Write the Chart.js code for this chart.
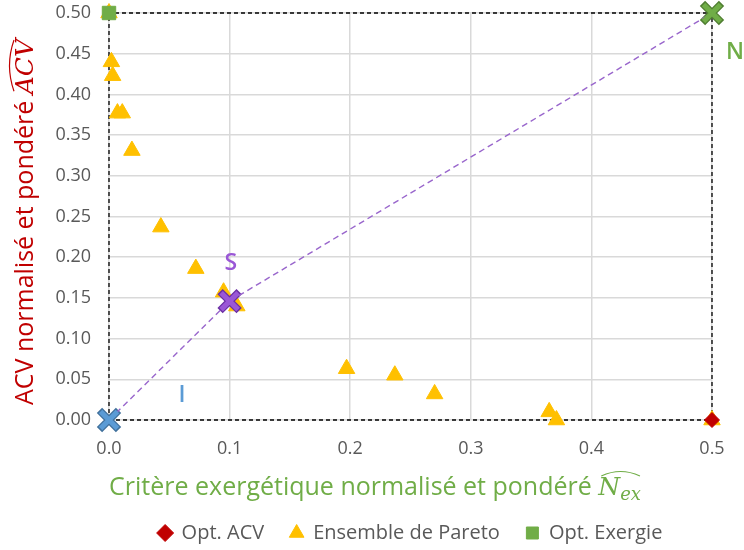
<!DOCTYPE html>
<html>
<head>
<meta charset="utf-8">
<script src="https://cdn.jsdelivr.net/npm/chart.js@4/dist/chart.umd.min.js"></script>
<style>
  html, body { margin: 0; padding: 0; background: #ffffff; }
  #wrap { width: 744px; height: 550px; position: relative; }
</style>
</head>
<body>
<div id="wrap"><canvas id="c" width="744" height="550"></canvas></div>
<script>
// ---- Data ----
const paretoX = [0.000, 0.002, 0.003, 0.007, 0.011, 0.019, 0.043, 0.072, 0.095, 0.106, 0.197, 0.237, 0.270, 0.365, 0.371, 0.500];
const paretoY = [0.500, 0.440, 0.423, 0.377, 0.377, 0.331, 0.237, 0.186, 0.157, 0.140, 0.063, 0.055, 0.032, 0.010, 0.000, 0.000];
const optAcvX = [0.5];
const optAcvY = [0.0];
const optExX = [0.0];
const optExY = [0.5];
const solX = [0.0, 0.1, 0.5];
const solY = [0.0, 0.146, 0.5];
const solNames = ["I", "S", "N"];
const solLabelX = [0.0605, 0.101, 0.519];
const solLabelY = [0.030, 0.192, 0.452];
const boxX = [0, 0.5, 0.5, 0, 0];
const boxY = [0, 0, 0.5, 0.5, 0];
const xTicks = [0.0, 0.1, 0.2, 0.3, 0.4, 0.5];
const yTicks = [0.00, 0.05, 0.10, 0.15, 0.20, 0.25, 0.30, 0.35, 0.40, 0.45, 0.50];
const legendNames = ["Opt. ACV", "Ensemble de Pareto", "Opt. Exergie"];

const pts = (xs, ys) => xs.map((x, i) => ({ x: x, y: ys[i] }));

const solColors = ["#5B9BD5", "#9A57D6", "#70AD47"];
const solDark = ["#41719C", "#6B2FA3", "#507E32"];

const FONT = '"Open Sans", "Liberation Sans", sans-serif';

const titlesPlugin = {
  id: 'titles',
  afterDraw(chart) {
    const ctx = chart.ctx;
    const xs = chart.scales.x, ys = chart.scales.y;
    ctx.save();
    ctx.textAlign = 'center';
    ctx.textBaseline = 'middle';
    ctx.font = '600 23px ' + FONT;
    solNames.forEach((n, i) => {
      ctx.fillStyle = solColors[i];
      ctx.fillText(n, xs.getPixelForValue(solLabelX[i]), ys.getPixelForValue(solLabelY[i]));
    });
    ctx.restore();

    const drawTitle = (cx, cy, color, main, sym, sub) => {
      ctx.save();
      ctx.fillStyle = color;
      ctx.strokeStyle = color;
      ctx.textBaseline = 'alphabetic';
      ctx.textAlign = 'left';
      const mainFont = '25px ' + FONT;
      const symFont = 'italic 25px "DejaVu Serif", "Liberation Serif", serif';
      const subFont = 'italic 18px "DejaVu Serif", "Liberation Serif", serif';
      ctx.font = mainFont; const w1 = ctx.measureText(main).width;
      ctx.font = symFont; const w2 = ctx.measureText(sym).width;
      ctx.font = subFont; const w3 = sub ? ctx.measureText(sub).width : 0;
      const total = w1 + w2 + w3;
      let x = cx - total / 2;
      const base = cy + 8;
      ctx.font = mainFont; ctx.fillText(main, x, base); x += w1;
      const symStart = x;
      ctx.font = symFont; ctx.fillText(sym, x, base); x += w2;
      if (sub) { ctx.font = subFont; ctx.fillText(sub, x, base + 5); x += w3; }
      const hx0 = symStart + 3, hx1 = x - 1, hy = base - 21;
      ctx.lineWidth = 1.2;
      ctx.beginPath();
      ctx.moveTo(hx0, hy + 2);
      ctx.quadraticCurveTo((hx0 + hx1) / 2, hy - 7, hx1, hy + 2);
      ctx.stroke();
      ctx.restore();
    };
    drawTitle(375, 487, '#70AD47', 'Critère exergétique normalisé et pondéré ', 'N', 'ex');
    ctx.save();
    ctx.translate(25, 222);
    ctx.rotate(-Math.PI / 2);
    drawTitle(0, 0, '#C00000', 'ACV normalisé et pondéré ', 'ACV', '');
    ctx.restore();
  }
};

new Chart(document.getElementById('c'), {
  type: 'scatter',
  data: {
    datasets: [
      {
        label: 'sol', data: pts(solX, solY), showLine: true,
        borderColor: '#9966CC', borderWidth: 1.4, borderDash: [6, 4],
        pointStyle: 'crossRot', pointRadius: 12, pointHoverRadius: 12,
        pointBorderColor: solColors, pointBorderWidth: 5, pointBackgroundColor: solColors,
        clip: false, order: 0
      },
      {
        label: 'solOutline', data: pts(solX, solY), showLine: false,
        pointStyle: 'crossRot', pointRadius: 13.5, pointHoverRadius: 13.5,
        pointBorderColor: solDark, pointBorderWidth: 7.5, pointBackgroundColor: solDark,
        clip: false, order: 1
      },
      {
        label: legendNames[0], data: pts(optAcvX, optAcvY),
        pointStyle: 'rectRot', pointRadius: 7.5, pointHoverRadius: 7.5,
        backgroundColor: '#C00000', borderColor: '#C00000', borderWidth: 1,
        clip: false, order: 2
      },
      {
        label: legendNames[2], data: pts(optExX, optExY),
        pointStyle: 'rect', pointRadius: 9.5, pointHoverRadius: 9.5,
        backgroundColor: '#70AD47', borderColor: '#70AD47', borderWidth: 1,
        clip: false, order: 3
      },
      {
        label: legendNames[1], data: pts(paretoX, paretoY),
        pointStyle: 'triangle', pointRadius: 9.5, pointHoverRadius: 9.5,
        backgroundColor: '#FFC000', borderColor: '#FFC000', borderWidth: 1,
        clip: false, order: 4
      },
      {
        label: 'box', data: pts(boxX, boxY), showLine: true,
        borderColor: '#000000', borderWidth: 1.3, borderDash: [4, 3],
        pointRadius: 0, pointHoverRadius: 0, clip: false, order: 5
      }
    ]
  },
  options: {
    responsive: false,
    animation: false,
    devicePixelRatio: 1,
    layout: { autoPadding: false, padding: { top: 13, right: 32, left: 0, bottom: -3 } },
    plugins: {
      tooltip: { enabled: false },
      legend: {
        position: 'bottom',
        fullSize: false,
        labels: {
          usePointStyle: true,
          boxWidth: 13, boxHeight: 12,
          padding: 26,
          color: '#595959',
          font: { family: FONT, size: 20 },
          filter: (item) => legendNames.includes(item.text),
          sort: (a, b) => legendNames.indexOf(a.text) - legendNames.indexOf(b.text)
        }
      }
    },
    scales: {
      x: {
        type: 'linear', min: 0, max: 0.5,
        afterBuildTicks: (s) => { s.ticks = xTicks.map(v => ({ value: v })); },
        afterFit: (s) => { s.height = 77; },
        grid: { color: '#d9d9d9', lineWidth: 1.5, drawTicks: false },
        border: { display: false },
        ticks: {
          padding: 18, color: '#595959', font: { family: FONT, size: 18 },
          callback: (v) => Number(v).toFixed(1)
        }
      },
      y: {
        type: 'linear', min: 0, max: 0.5,
        afterBuildTicks: (s) => { s.ticks = yTicks.map(v => ({ value: v })); },
        afterFit: (s) => { s.width = 109; s.paddingTop = 0; s.paddingBottom = 0; },
        grid: { color: '#d9d9d9', lineWidth: 1.5, drawTicks: false },
        border: { display: false },
        ticks: {
          padding: 18, color: '#595959', font: { family: FONT, size: 18 },
          callback: (v) => Number(v).toFixed(2)
        }
      }
    }
  },
  plugins: [titlesPlugin]
});
</script>
</body>
</html>
